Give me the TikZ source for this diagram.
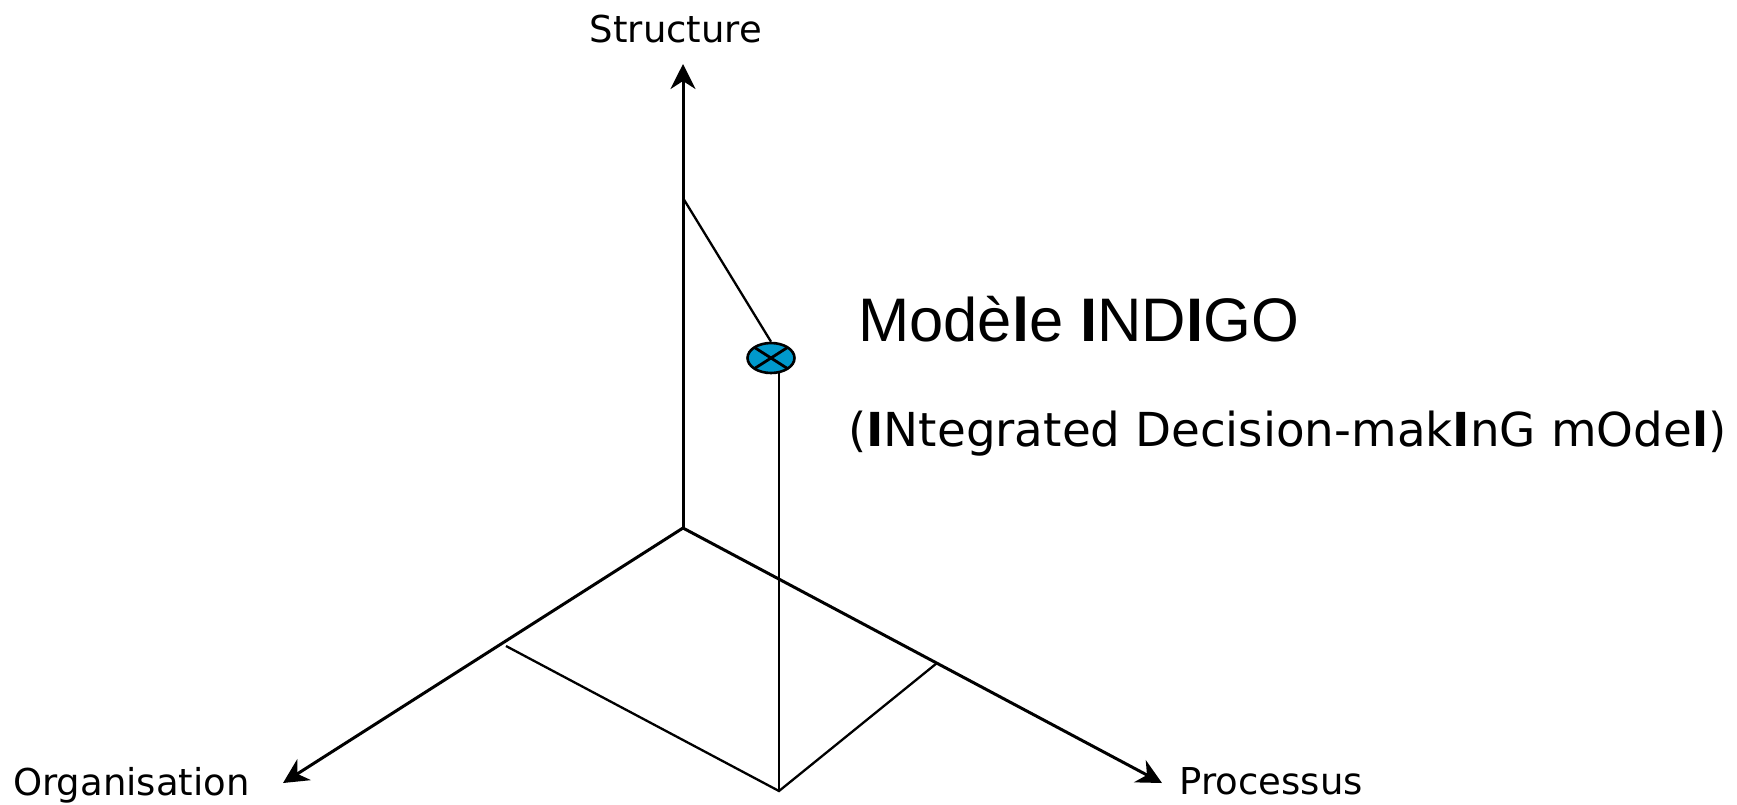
\documentclass[tikz,border=0pt]{standalone}
\usepackage{fontspec}
\setmainfont{DejaVu Sans}
\newfontfamily\titlefont{Liberation Sans}
\usetikzlibrary{arrows.meta,shapes.geometric}
\definecolor{pointblue}{RGB}{0,153,204}
\tikzset{
  axis/.style={line width=3pt,-{Stealth[length=25pt,width=25pt,inset=8pt]}},
  proj/.style={line width=2.3pt},
  axislabel/.style={inner sep=0pt,font=\fontsize{37}{40}\selectfont},
  pointmark/.style={ellipse,draw,line width=2.6pt,fill=pointblue,inner sep=0pt,
    minimum width=47pt,minimum height=30pt,
    path picture={\draw[line width=2.8pt]
      (path picture bounding box.north west) -- (path picture bounding box.south east)
      (path picture bounding box.north east) -- (path picture bounding box.south west);}}
}
\begin{document}
\begin{tikzpicture}[x=1pt,y=-1pt]
\useasboundingbox (0,0) rectangle (1737,804);

% axes
\coordinate (O) at (683,528);
\coordinate (S) at (683,64);
\coordinate (Og) at (283,783);
\coordinate (P) at (1162,783);
\draw[axis] (O) -- (S);
\draw[axis] (O) -- (Og);
\draw[axis] (O) -- (P);

% axis labels
\node[axislabel,anchor=base] (lS) at (676,42.7) {Structure};
\node[axislabel,anchor=base west] (lOg) at (13,795) {Organisation};
\node[axislabel,anchor=base west] (lP) at (1179.5,794) {Processus};

% the point and its projections
\node[pointmark] (pt) at (771,358) {};
\coordinate (sProj) at (683,198);
\coordinate (oProj) at (506,646);
\coordinate (base) at (779,791);
\coordinate (pProj) at (937,663);
\draw[proj] (sProj) -- (pt.north);
\draw[proj] (pt.south -| base) ++(0,-1) -- (base);
\draw[proj] (oProj) -- (base) -- (pProj);

% model name
\node[inner sep=0pt,anchor=base west,font=\titlefont\fontsize{61.5}{66}\selectfont]
  (title) at (858,341.7) {Mod\`e{\bfseries l}e {\bfseries I}ND{\bfseries I}GO};
\node[inner sep=0pt,anchor=base west,font=\fontsize{46.8}{52}\selectfont]
  (subtitle) at (848,446.7)
  {({\bfseries I}Ntegrated Decision-mak{\bfseries I}nG mOde{\bfseries l})};
\end{tikzpicture}
\end{document}
